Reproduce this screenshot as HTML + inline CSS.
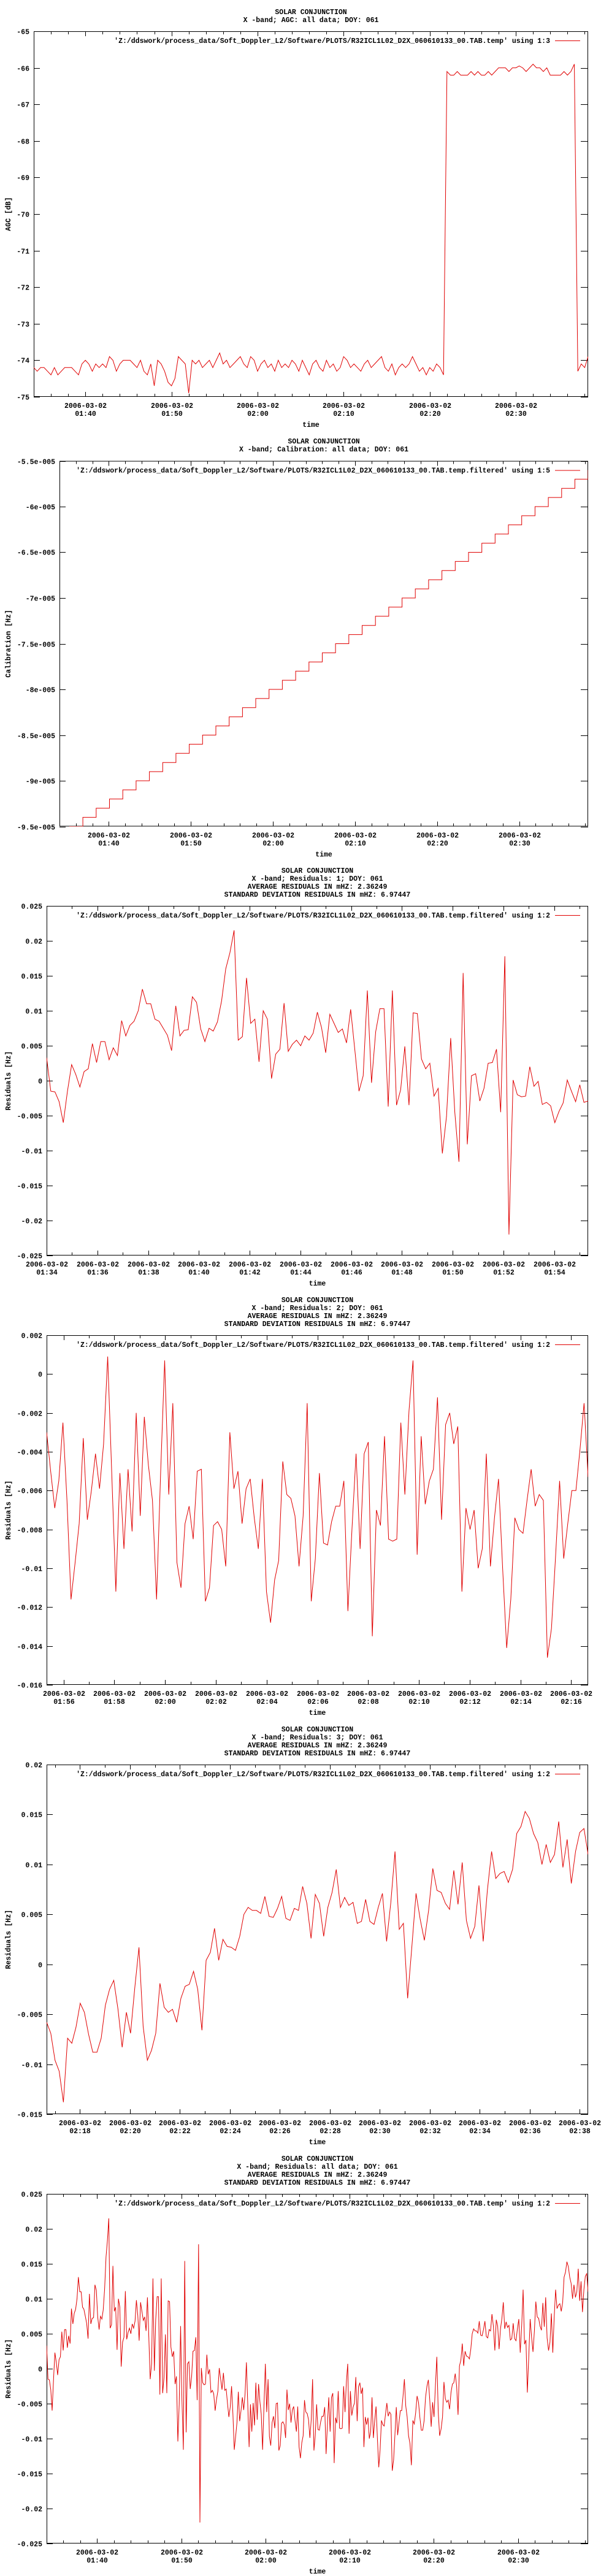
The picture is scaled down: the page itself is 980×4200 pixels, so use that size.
<!DOCTYPE html>
<html><head><meta charset="utf-8"><title>Solar Conjunction plots</title>
<style>
html,body{margin:0;padding:0;background:#fff;}
svg{display:block;}
text{font-family:"Liberation Mono","DejaVu Sans Mono",monospace;font-size:11.5px;font-weight:bold;fill:#000;}
</style></head>
<body>
<svg id="chart" xmlns="http://www.w3.org/2000/svg" width="980" height="4200" viewBox="0 0 980 4200"></svg>
<script>
// ---------- DATA ----------
// AGC (dB), samples every 0.4 min starting 01:34
const agcValues = [
-74.2,-74.3,-74.2,-74.2,-74.3,-74.4,-74.2,-74.4,-74.3,-74.2,
-74.2,-74.2,-74.3,-74.4,-74.1,-74.0,-74.1,-74.3,-74.1,-74.2,
-74.1,-74.2,-73.9,-74.0,-74.3,-74.1,-74.0,-74.0,-74.0,-74.1,
-74.2,-74.0,-74.3,-74.4,-74.1,-74.7,-74.0,-74.1,-74.3,-74.6,
-74.7,-74.5,-73.9,-74.0,-74.1,-74.9,-74.0,-74.1,-74.0,-74.2,
-74.1,-74.0,-74.2,-74.0,-73.8,-74.1,-74.0,-74.2,-74.1,-74.0,
-73.9,-74.1,-74.2,-73.9,-74.0,-74.3,-74.1,-74.0,-74.2,-74.1,
-74.3,-74.0,-74.2,-74.1,-74.2,-74.0,-74.1,-74.3,-74.0,-74.2,
-74.4,-74.1,-74.0,-74.2,-74.3,-74.0,-74.2,-74.1,-74.3,-74.2,
-73.9,-74.0,-74.2,-74.1,-74.2,-74.3,-74.1,-74.0,-74.2,-74.1,
-74.0,-73.9,-74.2,-74.3,-74.1,-74.4,-74.2,-74.1,-74.2,-74.1,
-73.9,-74.1,-74.3,-74.2,-74.4,-74.2,-74.3,-74.1,-74.2,-74.4,
-66.1,-66.2,-66.2,-66.1,-66.2,-66.2,-66.2,-66.1,-66.2,-66.1,-66.2,-66.2,-66.1,-66.2,-66.1,-66.0,-66.0,-66.0,-66.1,-66.0,-66.0,-65.95,-66.0,-66.1,-66.0,-65.9,-66.0,-66.0,-66.1,-66.0,-66.2,-66.2,-66.2,-66.2,-66.1,-66.2,-66.1,-65.9,
-74.3,-74.1,-74.2,-73.9];
const agcStartMin = 0, agcStepMin = 0.4;

// Calibration step levels (Hz)
const calLevels = [-9.5e-5,-9.4e-5,-9.3e-5,-9.2e-5,-9.1e-5,-9.0e-5,-8.9e-5,-8.8e-5,-8.7e-5,-8.6e-5,
-8.5e-5,-8.4e-5,-8.3e-5,-8.2e-5,-8.1e-5,-8.0e-5,-7.9e-5,-7.8e-5,-7.7e-5,-7.6e-5,
-7.5e-5,-7.4e-5,-7.3e-5,-7.2e-5,-7.1e-5,-7.0e-5,-6.9e-5,-6.8e-5,-6.7e-5,-6.6e-5,
-6.5e-5,-6.4e-5,-6.3e-5,-6.2e-5,-6.1e-5,-6.0e-5,-5.9e-5,-5.8e-5,-5.7e-5,-5.6e-5];
const calStartMin = 1.23, calStepMin = 1.62, calEndMin = 64.4;

// Residuals segment 1 (01:34 - 01:55:20)
const res1 = [0.0033,-0.0015,-0.0016,-0.003,-0.006,-0.0015,0.0023,0.0009,-0.0009,0.0013,0.0017,0.0053,0.0026,0.0056,0.0056,0.003,0.0047,0.0036,0.0086,0.0064,0.0079,0.0085,0.01,0.0131,0.011,0.011,0.0088,0.0085,0.0075,0.0065,0.0043,0.0107,0.0064,0.0072,0.0073,0.012,0.0112,0.0074,0.0056,0.0075,0.0071,0.0084,0.0114,0.016,0.0183,0.0215,0.0058,0.0063,0.0147,0.0082,0.0088,0.0027,0.01,0.0088,0.0003,0.0038,0.0045,0.0111,0.0042,0.0052,0.0058,0.005,0.0064,0.0058,0.0068,0.0098,0.0076,0.004,0.0095,0.0082,0.0069,0.0074,0.0054,0.0102,0.0044,-0.0015,0.0007,0.0129,-0.0003,0.007,0.0103,0.0103,-0.0037,0.0129,-0.0035,-0.0013,0.0049,-0.0035,0.0097,0.0096,0.0031,0.0017,0.0025,-0.0022,-0.0011,-0.0104,-0.0051,0.0061,-0.0045,-0.0116,0.0154,-0.0091,0.0007,0.001,-0.0029,-0.0011,0.0025,0.0026,0.0045,-0.0045,0.0178,-0.022,0.0001,-0.002,-0.0023,-0.0022,0.002,-0.0008,-0.0001,-0.0034,-0.0031,-0.0036,-0.006,-0.0044,-0.0032,0.0001,-0.0015,-0.003,-0.0006,-0.0031,-0.0029];
// Residuals segment 2 (01:55:20 - 02:16:40)
const res2 = [-0.003,-0.005,-0.0069,-0.0055,-0.0025,-0.0065,-0.0116,-0.0097,-0.0077,-0.0033,-0.0075,-0.006,-0.0041,-0.0059,-0.0036,0.0009,-0.0051,-0.0112,-0.0051,-0.009,-0.0049,-0.0081,-0.002,-0.0073,-0.0022,-0.0047,-0.0065,-0.0116,-0.0051,0.0007,-0.0062,-0.0015,-0.0097,-0.011,-0.0077,-0.0068,-0.0085,-0.005,-0.0049,-0.0117,-0.011,-0.0078,-0.0076,-0.008,-0.0099,-0.003,-0.0059,-0.005,-0.0077,-0.0059,-0.0054,-0.0074,-0.009,-0.0054,-0.0112,-0.0128,-0.0106,-0.0096,-0.0045,-0.0062,-0.0064,-0.0073,-0.0099,-0.0073,-0.0015,-0.0117,-0.0095,-0.0051,-0.0087,-0.0088,-0.0076,-0.0068,-0.0068,-0.0055,-0.0122,-0.008,-0.0041,-0.009,-0.0041,-0.0035,-0.0135,-0.007,-0.0078,-0.0032,-0.0085,-0.0086,-0.0085,-0.0025,-0.0062,-0.0019,0.0007,-0.0093,-0.0032,-0.0067,-0.0055,-0.0049,-0.0012,-0.0075,-0.0026,-0.002,-0.0036,-0.0027,-0.0112,-0.0069,-0.008,-0.007,-0.01,-0.009,-0.0041,-0.0099,-0.0074,-0.0054,-0.01,-0.0141,-0.0116,-0.0074,-0.008,-0.0082,-0.0065,-0.0049,-0.0068,-0.0062,-0.0065,-0.0146,-0.0131,-0.0094,-0.0055,-0.0095,-0.0077,-0.006,-0.006,-0.0039,-0.0015,-0.0053];
// Residuals segment 3 (02:16:40 - 02:38:20)
const res3 = [-0.0058,-0.0069,-0.0096,-0.0107,-0.0138,-0.0074,-0.0079,-0.0063,-0.0039,-0.0048,-0.007,-0.0088,-0.0088,-0.0074,-0.0041,-0.0025,-0.0016,-0.0045,-0.0083,-0.0048,-0.0069,-0.0024,0.0017,-0.0062,-0.0096,-0.0086,-0.0069,-0.0019,-0.0043,-0.0048,-0.0045,-0.0058,-0.0034,-0.0022,-0.002,-0.0007,-0.0025,-0.0066,0.0004,0.0012,0.0036,0.0004,0.0025,0.0018,0.0017,0.0014,0.0028,0.005,0.0057,0.0054,0.0054,0.0051,0.0068,0.0048,0.0047,0.0056,0.0068,0.0046,0.0044,0.0056,0.0054,0.0078,0.0061,0.0026,0.007,0.0061,0.0028,0.0057,0.0072,0.0095,0.0057,0.0067,0.0059,0.0062,0.0041,0.0043,0.0065,0.0043,0.004,0.0057,0.0071,0.0023,0.0062,0.0113,0.0035,0.0041,-0.0034,0.0017,0.0071,0.0045,0.0024,0.0054,0.0096,0.0074,0.0072,0.0061,0.0055,0.0094,0.006,0.0102,0.0044,0.0026,0.0038,0.0079,0.0023,0.0074,0.0113,0.0086,0.0091,0.0093,0.0082,0.0095,0.0131,0.0138,0.0153,0.0146,0.0131,0.0122,0.01,0.012,0.0102,0.011,0.0143,0.0097,0.0125,0.0081,0.0113,0.0132,0.0136,0.011];
const seg1Min = [0, 21.333], seg2Min = [21.333, 42.667], seg3Min = [42.667, 64.333];

// Tick labels
const agcYTicks = [-65,-66,-67,-68,-69,-70,-71,-72,-73,-74,-75];
const calYTicks = [-5.5e-5,-6e-5,-6.5e-5,-7e-5,-7.5e-5,-8e-5,-8.5e-5,-9e-5,-9.5e-5];
const calYLabels = ['-5.5e-005','-6e-005','-6.5e-005','-7e-005','-7.5e-005','-8e-005','-8.5e-005','-9e-005','-9.5e-005'];
const res1YTicks = [0.025,0.02,0.015,0.01,0.005,0,-0.005,-0.01,-0.015,-0.02,-0.025];
const res2YTicks = [0.002,0,-0.002,-0.004,-0.006,-0.008,-0.01,-0.012,-0.014,-0.016];
const res3YTicks = [0.02,0.015,0.01,0.005,0,-0.005,-0.01,-0.015];
const fullXLabels = ['01:40','01:50','02:00','02:10','02:20','02:30'];
const seg1XLabels = ['01:34','01:36','01:38','01:40','01:42','01:44','01:46','01:48','01:50','01:52','01:54'];
const seg2XLabels = ['01:56','01:58','02:00','02:02','02:04','02:06','02:08','02:10','02:12','02:14','02:16'];
const seg3XLabels = ['02:18','02:20','02:22','02:24','02:26','02:28','02:30','02:32','02:34','02:36','02:38'];

// ---------- DRAWING ----------
const NS = 'http://www.w3.org/2000/svg';
const svg = document.getElementById('chart');
function mk(tag, parent){ const e=document.createElementNS(NS,tag); parent.appendChild(e); return e; }
function minOf(lbl){ const p=lbl.split(':'); return (+p[0]*60 + +p[1]) - 94; }
function fmt(v){ return String(+v.toPrecision(6)); }

function segPoints(vals, range){
  const pts=[]; const n=vals.length;
  for(let i=0;i<n;i++){ pts.push([range[0]+(range[1]-range[0])*i/(n-1), vals[i]]); }
  return pts;
}

function drawChart(c){
  const g = mk('g', svg);
  
  
  const L=c.L, R=c.R, T=c.oy+c.T, B=c.oy+c.B;
  const xs = t => L + (t-c.t0)/(c.t1-c.t0)*(R-L);
  const ys = v => B - (v-c.ymin)/(c.ymax-c.ymin)*(B-T);
  const cx = (L+R)/2;
  c.titles.forEach((s,i)=>{
    const t = mk('text', g);
    
    
    t.setAttribute('x', cx); t.setAttribute('y', c.oy + c.titleY[i] + 4);
    t.setAttribute('text-anchor','middle'); t.textContent = s;
  });
  const fr = mk('rect', g);
  
  
  fr.setAttribute('x', L+0.5); fr.setAttribute('y', T+0.5);
  fr.setAttribute('width', R-L-1); fr.setAttribute('height', B-T-1);
  fr.setAttribute('fill','none'); fr.setAttribute('stroke','#000');
  c.yTicks.forEach((v,i)=>{
    const y = Math.round(ys(v))+0.5;
    const tk = mk('path', g);
    
    
    tk.setAttribute('d', `M${L} ${y}H${L+10}M${R-12} ${y}H${R}`);
    tk.setAttribute('stroke','#000');
    const lb = mk('text', g);
    
    
    lb.setAttribute('x', L-7); lb.setAttribute('y', y+4);
    lb.setAttribute('text-anchor','end');
    lb.textContent = c.yLabels ? c.yLabels[i] : fmt(v);
  });
  const yl = mk('text', g);
  
  
  const ymid = (T+B)/2;
  yl.setAttribute('transform', `translate(17 ${ymid}) rotate(-90)`);
  yl.setAttribute('text-anchor','middle');
  yl.textContent = c.ylabel;
  for(let t=c.minorStart; t<=c.t1+1e-6; t+=c.minorStep){
    if(t < c.t0-1e-6) continue;
    const x = Math.round(xs(t))+0.5;
    const mt = mk('path', g);
    
    
    mt.setAttribute('d', `M${x} ${B}V${B-5}M${x} ${T}V${T+5}`);
    mt.setAttribute('stroke','#000');
  }
  c.xLabels.forEach(lbl=>{
    const t = minOf(lbl);
    const x = Math.round(xs(t))+0.5;
    const mt = mk('path', g);
    
    
    mt.setAttribute('d', `M${x} ${B}V${B-8}M${x} ${T}V${T+8}`);
    mt.setAttribute('stroke','#000');
    const l1 = mk('text', g);
    
    
    l1.setAttribute('x', x); l1.setAttribute('y', B+18);
    l1.setAttribute('text-anchor','middle'); l1.textContent = '2006-03-02';
    const l2 = mk('text', g);
    
    
    l2.setAttribute('x', x); l2.setAttribute('y', B+31);
    l2.setAttribute('text-anchor','middle'); l2.textContent = lbl;
  });
  const xt = mk('text', g);
  
  
  xt.setAttribute('x', cx); xt.setAttribute('y', B+49);
  xt.setAttribute('text-anchor','middle'); xt.textContent = 'time';
  const d = c.points.map((p,i)=>(i?'L':'M')+xs(p[0]).toFixed(1)+' '+ys(p[1]).toFixed(1)).join('');
  const cp = mk('clipPath', g); cp.setAttribute('id', c.name+'-clip');
  const cr = mk('rect', cp); cr.setAttribute('x',L); cr.setAttribute('y',T); cr.setAttribute('width',R-L); cr.setAttribute('height',B-T);
  const ln = mk('path', g);
  
  
  ln.setAttribute('d', d); ln.setAttribute('fill','none');
  ln.setAttribute('stroke','#e00000'); ln.setAttribute('stroke-width','1');
  ln.setAttribute('clip-path', `url(#${c.name}-clip)`);
  const lg = mk('text', g);
  
  
  lg.setAttribute('x', 897); lg.setAttribute('y', T+19);
  lg.setAttribute('text-anchor','end'); lg.textContent = c.legend;
  const ls = mk('path', g);
  
  
  ls.setAttribute('d', `M905 ${T+15.5}H946`); ls.setAttribute('stroke','#e00000');
}

const base = "'Z:/ddswork/process_data/Soft_Doppler_L2/Software/PLOTS/R32ICL1L02_D2X_060610133_00.TAB.temp";
const resTitles = n => ['SOLAR CONJUNCTION', `X -band; Residuals: ${n}; DOY: 061`, 'AVERAGE RESIDUALS IN mHZ: 2.36249', 'STANDARD DEVIATION RESIDUALS IN mHZ: 6.97447'];
const resTitleY = [39,52,65,78];

const agcPts = agcValues.map((v,i)=>[agcStartMin + i*agcStepMin, v]);
drawChart({name:'agc-chart', oy:0, L:55, R:959, T:51, B:647, t0:0, t1:64.4, ymin:-75, ymax:-65,
  titles:['SOLAR CONJUNCTION','X -band; AGC: all data; DOY: 061'], titleY:[19,32],
  yTicks:agcYTicks, ylabel:'AGC [dB]', xLabels:fullXLabels, minorStart:0, minorStep:2,
  points:agcPts, legend: base+"' using 1:3"});

const calPts = [[calStartMin, -9.6e-5]];
calLevels.forEach((v,i)=>{
  const t0 = calStartMin + i*calStepMin;
  const t1 = Math.min(calStartMin + (i+1)*calStepMin, calEndMin);
  calPts.push([t0, v]); calPts.push([t1, v]);
});
drawChart({name:'calibration-chart', oy:690, L:97, R:959, T:61.5, B:657.5, t0:0, t1:64.4, ymin:-9.5e-5, ymax:-5.5e-5,
  titles:['SOLAR CONJUNCTION','X -band; Calibration: all data; DOY: 061'], titleY:[29,42],
  yTicks:calYTicks, yLabels:calYLabels, ylabel:'Calibration [Hz]', xLabels:fullXLabels, minorStart:0, minorStep:2,
  points:calPts, legend: base+".filtered' using 1:5"});

drawChart({name:'residuals-1-chart', oy:1380, L:76, R:959, T:97, B:667, t0:seg1Min[0], t1:seg1Min[1], ymin:-0.025, ymax:0.025,
  titles:resTitles(1), titleY:resTitleY, yTicks:res1YTicks, ylabel:'Residuals [Hz]', xLabels:seg1XLabels, minorStart:0, minorStep:1,
  points:segPoints(res1, seg1Min), legend: base+".filtered' using 1:2"});
drawChart({name:'residuals-2-chart', oy:2080, L:76, R:959, T:97, B:667, t0:seg2Min[0], t1:seg2Min[1], ymin:-0.016, ymax:0.002,
  titles:resTitles(2), titleY:resTitleY, yTicks:res2YTicks, ylabel:'Residuals [Hz]', xLabels:seg2XLabels, minorStart:0, minorStep:1,
  points:segPoints(res2, seg2Min), legend: base+".filtered' using 1:2"});
drawChart({name:'residuals-3-chart', oy:2780, L:76, R:959, T:97, B:667, t0:seg3Min[0], t1:seg3Min[1], ymin:-0.015, ymax:0.02,
  titles:resTitles(3), titleY:resTitleY, yTicks:res3YTicks, ylabel:'Residuals [Hz]', xLabels:seg3XLabels, minorStart:0, minorStep:1,
  points:segPoints(res3, seg3Min), legend: base+".filtered' using 1:2"});

const allPts = segPoints(res1, seg1Min).concat(segPoints(res2, seg2Min).slice(1), segPoints(res3, seg3Min).slice(1));
drawChart({name:'residuals-all-chart', oy:3480, L:76, R:959, T:97, B:667, t0:0, t1:64.333, ymin:-0.025, ymax:0.025,
  titles:['SOLAR CONJUNCTION','X -band; Residuals: all data; DOY: 061','AVERAGE RESIDUALS IN mHZ: 2.36249','STANDARD DEVIATION RESIDUALS IN mHZ: 6.97447'], titleY:resTitleY,
  yTicks:res1YTicks, ylabel:'Residuals [Hz]', xLabels:fullXLabels, minorStart:0, minorStep:2,
  points:allPts, legend: base+"' using 1:2"});
</script>
</body></html>
